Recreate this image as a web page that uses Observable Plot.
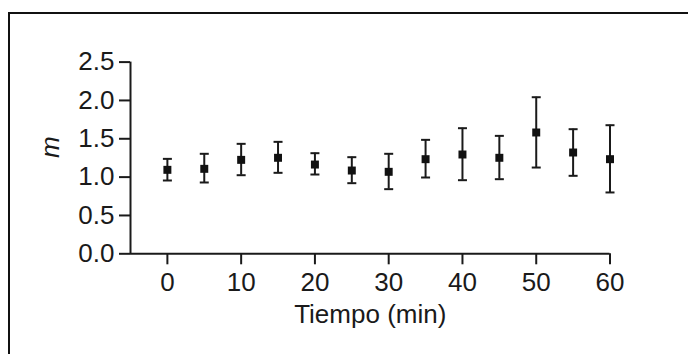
<!DOCTYPE html>
<html>
<head>
<meta charset="utf-8">
<script src="https://cdn.jsdelivr.net/npm/d3@7"></script>
<script src="https://cdn.jsdelivr.net/npm/@observablehq/plot@0.6"></script>
<style>
  html, body { margin: 0; padding: 0; background: #fff; }
  #wrap { position: relative; width: 688px; height: 354px; overflow: hidden; }
  #frame { position: absolute; left: 8px; top: 12px; width: 700px; height: 360px;
           border-top: 2px solid #111; border-left: 2px solid #111; box-sizing: border-box; }
  #chart { position: absolute; left: 0; top: 0; }
</style>
</head>
<body>
<div id="wrap"><div id="frame"></div><div id="chart"></div></div>
<script>
const times = [0, 5, 10, 15, 20, 25, 30, 35, 40, 45, 50, 55, 60];
const means = [1.095, 1.108, 1.225, 1.252, 1.164, 1.086, 1.069, 1.234, 1.295, 1.252, 1.582, 1.321, 1.234];
const upper = [1.238, 1.304, 1.434, 1.460, 1.312, 1.260, 1.304, 1.486, 1.638, 1.538, 2.042, 1.625, 1.677];
const lower = [0.956, 0.930, 1.025, 1.056, 1.034, 0.921, 0.843, 0.995, 0.960, 0.973, 1.125, 1.017, 0.800];
const xTicks = [0, 10, 20, 30, 40, 50, 60];
const yTicks = [0, 0.5, 1.0, 1.5, 2.0, 2.5];
const xTitle = "Tiempo (min)";
const yTitle = "m";

const data = times.map((t, i) => ({t, m: means[i], hi: upper[i], lo: lower[i]}));
const hbar = {draw(context, size) { const r = Math.sqrt(size / Math.PI); context.moveTo(-r, 0); context.lineTo(r, 0); }};
const ink = "#1a1a1a";
const font = "'Liberation Sans', Arial, sans-serif";

const chart = Plot.plot({
  width: 688,
  height: 354,
  marginLeft: 130,
  marginRight: 78.5,
  marginTop: 61.6,
  marginBottom: 100.7,
  style: {fontFamily: font, color: ink, background: "transparent", overflow: "visible"},
  x: {domain: [-5, 60]},
  y: {domain: [0, 2.5]},
  marks: [
    Plot.axisX({ticks: xTicks, tickSize: 11, tickPadding: 8, fontSize: 26, label: null, strokeWidth: 2, tickFormat: d => String(d)}),
    Plot.axisY({ticks: yTicks, tickSize: 11, tickPadding: 5, fontSize: 26, label: null, strokeWidth: 2, tickFormat: d3.format(".1f")}),
    Plot.ruleY([0], {x1: -5, x2: 60, stroke: ink, strokeWidth: 2}),
    Plot.ruleX([-5], {y1: 0, y2: 2.5, stroke: ink, strokeWidth: 2}),
    Plot.ruleX(data, {x: "t", y1: "lo", y2: "hi", stroke: ink, strokeWidth: 2}),
    Plot.dot(data, {x: "t", y: "hi", symbol: hbar, r: 4.5, stroke: ink, strokeWidth: 2, fill: "none"}),
    Plot.dot(data, {x: "t", y: "lo", symbol: hbar, r: 4.5, stroke: ink, strokeWidth: 2, fill: "none"}),
    Plot.dot(data, {x: "t", y: "m", symbol: "square", r: 4.5, fill: "#111", stroke: "none"}),
    Plot.text([xTitle], {frameAnchor: "bottom", dy: 61, lineAnchor: "middle", fontSize: 26, fill: ink}),
    Plot.text([yTitle], {frameAnchor: "left", dx: -80, rotate: -90, lineAnchor: "middle", fontSize: 26, fontStyle: "italic", fill: ink})
  ]
});
document.getElementById("chart").appendChild(chart);
</script>
</body>
</html>
